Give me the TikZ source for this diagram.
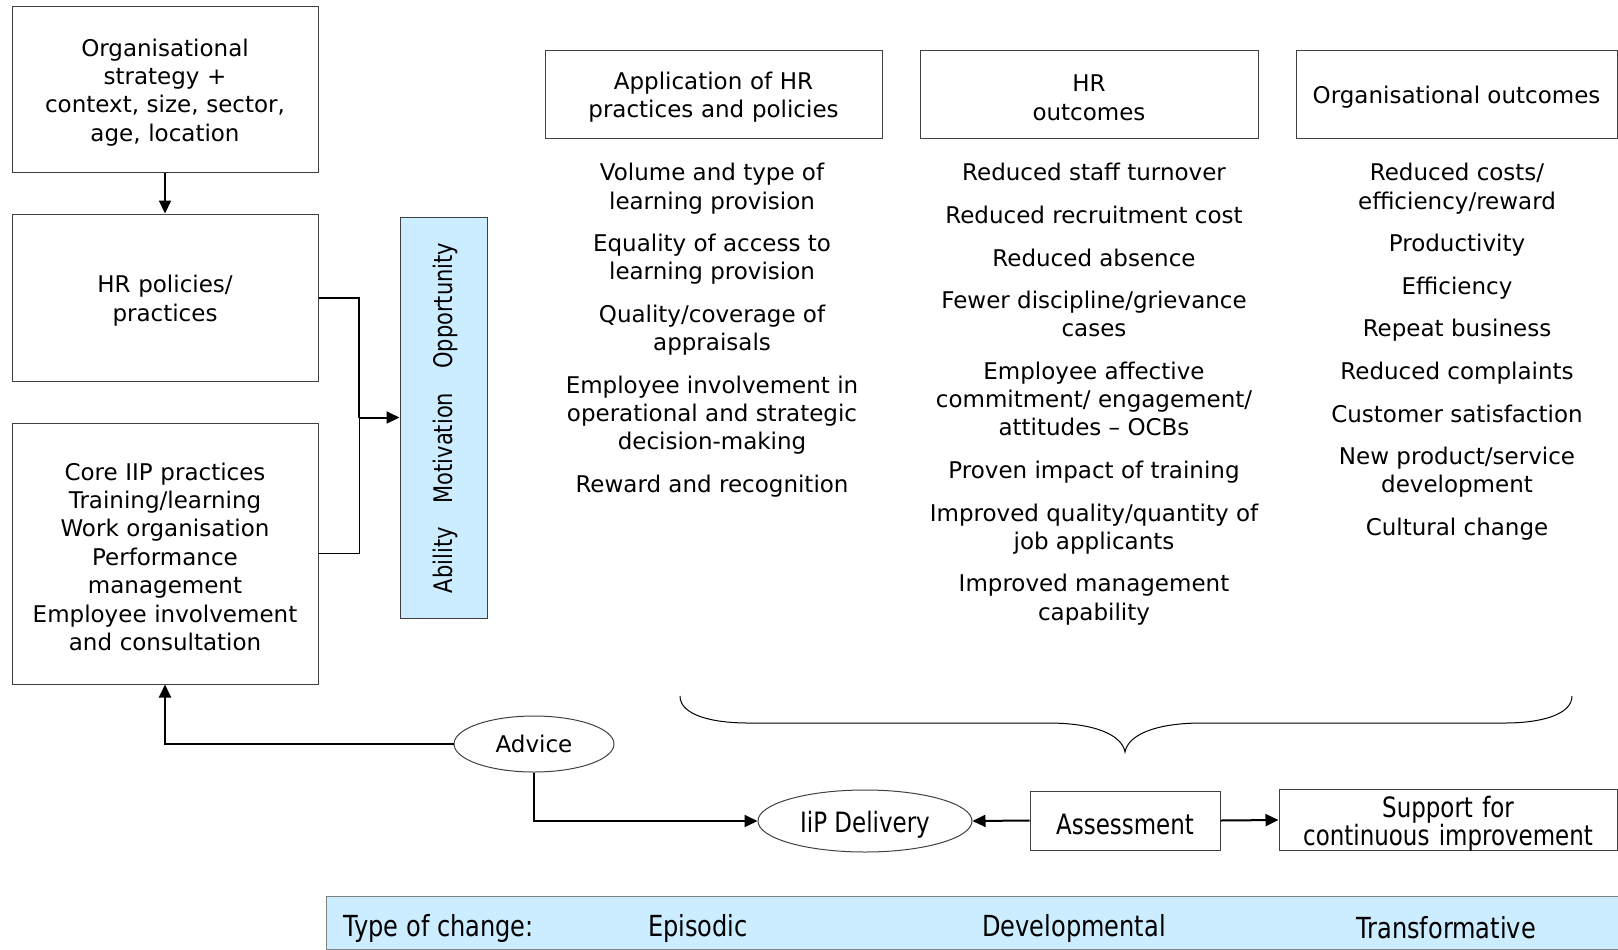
\documentclass[tikz,border=0pt]{standalone}
\usepackage{fontspec}
\setmainfont{DejaVu Sans}
\newfontfamily\narrowfont[FakeStretch=0.82]{DejaVu Sans}
\newfontfamily\barfont[FakeStretch=0.83]{DejaVu Sans}
\usetikzlibrary{shapes.geometric}
\usetikzlibrary{positioning}
\usetikzlibrary{arrows.meta}
\definecolor{amoblue}{HTML}{CCECFF}

\begin{document}
\begin{tikzpicture}[
		x=0.5pt, y=-0.5pt,
		>={Triangle[length=6.5pt,width=6pt]},
		box/.style={
			shape=rectangle,
			draw=black!75,
			line width=0.5pt,
			align=center,
			inner sep=0pt,
			execute at begin node={\rule{0pt}{12pt}},
			font={\fontsize{11.5pt}{14.2pt}\selectfont}
		},
		oval/.style={
			ellipse,
			draw=black!75,
			line width=0.5pt,
			inner sep=0pt
		},
		itemlist/.style={
			align=center,
			inner sep=0pt,
			anchor=north,
			font={\fontsize{11.5pt}{14.1pt}\selectfont}
		},
		narrow/.style={
			execute at begin node={\rule{0pt}{1em}},
			font={\narrowfont\fontsize{14pt}{14pt}\selectfont}
		},
		bartext/.style={inner sep=0pt, font={\barfont\fontsize{14.5pt}{15pt}\selectfont}},
		link/.style={line width=1pt}
		]
		
		\useasboundingbox (0,0) rectangle (1618,949);
		
		\node[box, text width=150pt, minimum width=153pt, minimum height=83pt] (orgstrategy) at (165,89)
		{Organisational\\ strategy +\\ context, size, sector,\\ age, location};
		
		\node[box, text width=150pt, minimum width=153pt, minimum height=83.5pt] (hrpolicies) at (165,297.5)
		{HR policies/\\ practices};
		
		\node[box, text width=150pt, minimum width=153pt, minimum height=130.5pt] (coreiip) at (165,553.5)
		{Core IIP practices\\ Training/learning\\ Work organisation\\ Performance\\ management\\ Employee involvement\\ and consultation};
		
		\node[box, fill=amoblue, minimum width=43.5pt, minimum height=200.5pt] (amo) at (443.5,417.5) {};
		\node[rotate=90, inner sep=0pt, font={\narrowfont\fontsize{12.8pt}{14pt}\selectfont}] (amotext) at (445,418)
		{Ability\hspace{12pt}Motivation\hspace{12pt}Opportunity};
		
		\coordinate (join) at (359,417.5);
		
		%%%%%%%%%%
		
		\node[box, text width=165pt, minimum width=168.5pt, minimum height=44pt] (application) at (713.5,94)
		{Application of HR\\ practices and policies};
		
		\node[box, text width=165pt, minimum width=169pt, minimum height=44pt] (hroutcomes) at (1089,94)
		{HR\\ outcomes};
		
		\node[box, minimum width=160.5pt, minimum height=44pt] (orgoutcomes) at (1456.5,94)
		{Organisational outcomes};
		
		\node[itemlist] (practicelist) at (712,163)
		{Volume and type of\\ learning provision\\[7.2pt]
			Equality of access to\\ learning provision\\[7.2pt]
			Quality/coverage of\\ appraisals\\[7.2pt]
			Employee involvement in\\ operational and strategic\\ decision-making\\[7.2pt]
			Reward and recognition};
		
		\node[itemlist] (hrlist) at (1094,163)
		{Reduced staff turnover\\[7.2pt]
			Reduced recruitment cost\\[7.2pt]
			Reduced absence\\[7.2pt]
			Fewer discipline/grievance\\ cases\\[7.2pt]
			Employee affective\\ commitment/ engagement/\\ attitudes – OCBs\\[7.2pt]
			Proven impact of training\\[7.2pt]
			Improved quality/quantity of\\ job applicants\\[7.2pt]
			Improved management\\ capability};
		
		\node[itemlist] (orglist) at (1457,163)
		{Reduced costs/\\ efficiency/reward\\[7.2pt]
			Productivity\\[7.2pt]
			Efficiency\\[7.2pt]
			Repeat business\\[7.2pt]
			Reduced complaints\\[7.2pt]
			Customer satisfaction\\[7.2pt]
			New product/service\\ development\\[7.2pt]
			Cultural change};
		
		%%%%%%%%%%
		
		\node[oval, minimum width=80pt, minimum height=28pt, font={\fontsize{11.5pt}{13pt}\selectfont}] (advice) at (534,744) {Advice};
		
		\node[oval, narrow, minimum width=107pt, minimum height=31pt] (iipdelivery) at (865,821) {IiP Delivery};
		
		\node[box, narrow, minimum width=95pt, minimum height=29.5pt] (assessment) at (1125,820.5) {Assessment};
		
		\node[box, narrow, text width=166pt, minimum width=169pt, minimum height=30pt] (support) at (1448,820)
		{Support for\\ continuous improvement};
		
		\node[box, draw=black!50, fill=amoblue, minimum width=646pt, minimum height=26.5pt] (changebar) at (972,922.5) {};
		\node[bartext, anchor=west] (changetype) at (343,928) {Type of change:};
		\node[bartext] (episodic) at (698,928) {Episodic};
		\node[bartext] (developmental) at (1074,928) {Developmental};
		\node[bartext] (transformative) at (1446,928) {Transformative};
		
		% brace over the outcomes
		\draw[line width=0.5pt] (680,696) .. controls (680,715) and (712,723) .. (748,723) -- (1048,723)
		.. controls (1095,723) and (1122,735) .. (1125,752)
		.. controls (1128,735) and (1155,723) .. (1202,723) -- (1505,723)
		.. controls (1540,723) and (1572,715) .. (1572,696);
		
		%%%%%%%%%%
		
		\draw[->, link] (orgstrategy.south) to (hrpolicies.north);
		
		\draw[link] (hrpolicies.east) -| (join);
		\draw[line width=0.5pt] (coreiip.east) -| (join);
		\draw[->, link] (join) to (amo.west);
		
		\draw[->, link] (advice.west) -| (coreiip.south);
		\draw[->, link] (advice.south) |- (iipdelivery.west);
		
		\draw[->, link] (assessment.west) to (iipdelivery.east);
		\draw[->, link] (assessment.east) to (support.west);
		
	\end{tikzpicture}
\end{document}
